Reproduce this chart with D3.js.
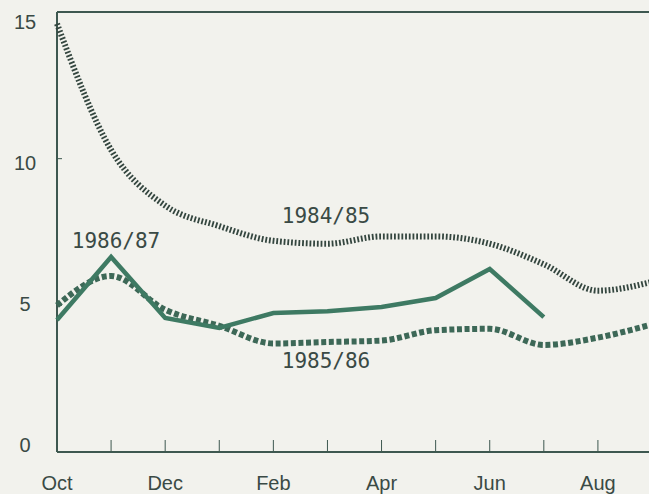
<!DOCTYPE html>
<html>
<head>
<meta charset="utf-8">
<script src="https://cdn.jsdelivr.net/npm/d3@7"></script>
<style>
  body { margin: 0; background: #f2f2ed; }
  svg { display: block; }
</style>
</head>
<body>
<svg width="649" height="494"></svg>
<script>
(function () {
  var months = ["Oct", "Nov", "Dec", "Jan", "Feb", "Mar", "Apr", "May", "Jun", "Jul", "Aug", "Sep"];
  var monthLabels = ["Oct", "", "Dec", "", "Feb", "", "Apr", "", "Jun", "", "Aug", ""];
  var yTicks = [0, 5, 10, 15];

  var s8485 = [14.6, 10.3, 8.4, 7.7, 7.2, 7.1, 7.35, 7.35, 7.1, 6.4, 5.5, 5.8];
  var s8586 = [5.0, 6.0, 4.85, 4.3, 3.7, 3.75, 3.8, 4.15, 4.2, 3.65, 3.9, 4.35];
  var s8687 = [4.5, 6.65, 4.57, 4.23, 4.74, 4.8, 4.94, 5.25, 6.24, 4.6];

  var svg = d3.select("svg");
  var axisColor = "#3e5850";
  var textColor = "#3a4a45";
  var tickFont = "'Liberation Sans', Arial, sans-serif";

  var x = d3.scalePoint().domain(months).range([57, 652]);
  var y = d3.scaleLinear().domain([0, 15]).range([452, 12]);
  // the printed labels sit slightly inside the frame
  var yLabel = d3.scaleLinear().domain([0, 15]).range([445, 22]);

  // frame: top line, left axis, bottom axis
  svg.append("line")
    .attr("x1", 57).attr("x2", 649).attr("y1", y(15)).attr("y2", y(15))
    .attr("stroke", axisColor).attr("stroke-width", 2);
  svg.append("line")
    .attr("x1", 57).attr("x2", 57).attr("y1", y(15)).attr("y2", y(0))
    .attr("stroke", axisColor).attr("stroke-width", 2);
  svg.append("line")
    .attr("x1", 57).attr("x2", 649).attr("y1", y(0)).attr("y2", y(0))
    .attr("stroke", axisColor).attr("stroke-width", 2);

  // month ticks
  svg.append("g").selectAll("line")
    .data(months.slice(1))
    .enter().append("line")
    .attr("x1", d => x(d)).attr("x2", d => x(d))
    .attr("y1", y(0) - 12).attr("y2", y(0))
    .attr("stroke", axisColor).attr("stroke-width", 1);

  svg.append("g").selectAll("text")
    .data(months)
    .enter().append("text")
    .attr("x", d => x(d))
    .attr("y", 490)
    .attr("text-anchor", "middle")
    .attr("font-family", tickFont)
    .attr("font-size", 20)
    .attr("fill", textColor)
    .text((d, i) => monthLabels[i]);

  // y ticks and labels
  svg.append("g").selectAll("line")
    .data([5, 10])
    .enter().append("line")
    .attr("x1", 57).attr("x2", 62)
    .attr("y1", d => y(d)).attr("y2", d => y(d))
    .attr("stroke", axisColor).attr("stroke-width", 1);

  svg.append("g").selectAll("text")
    .data(yTicks)
    .enter().append("text")
    .attr("x", 25)
    .attr("y", d => yLabel(d))
    .attr("dy", "0.36em")
    .attr("text-anchor", "middle")
    .attr("font-family", tickFont)
    .attr("font-size", 20)
    .attr("fill", textColor)
    .text(d => d);

  var smooth = d3.line()
    .x((d, i) => x(months[i]))
    .y(d => y(d))
    .curve(d3.curveMonotoneX);
  var straight = d3.line()
    .x((d, i) => x(months[i]))
    .y(d => y(d));

  // 1984/85 fine hatched
  svg.append("path")
    .datum(s8485)
    .attr("d", smooth)
    .attr("fill", "none")
    .attr("stroke", "#34463f")
    .attr("stroke-width", 6)
    .attr("stroke-dasharray", "1.8,1.9");

  // 1985/86 square dashes
  svg.append("path")
    .datum(s8586)
    .attr("d", smooth)
    .attr("fill", "none")
    .attr("stroke", "#3d6857")
    .attr("stroke-width", 6)
    .attr("stroke-dasharray", "5,2.6");

  // 1986/87 solid
  svg.append("path")
    .datum(s8687)
    .attr("d", straight)
    .attr("fill", "none")
    .attr("stroke", "#3e7a63")
    .attr("stroke-width", 4.5)
    .attr("stroke-linejoin", "miter");

  var labels = [
    { text: "1984/85", x: 326, y: 223 },
    { text: "1986/87", x: 116, y: 248 },
    { text: "1985/86", x: 326, y: 368 }
  ];
  svg.append("g").selectAll("text")
    .data(labels)
    .enter().append("text")
    .attr("x", d => d.x)
    .attr("y", d => d.y)
    .attr("text-anchor", "middle")
    .attr("font-family", "'DejaVu Sans Mono', monospace")
    .attr("font-size", 21)
    .attr("fill", textColor)
    .text(d => d.text);
})();
</script>
</body>
</html>
